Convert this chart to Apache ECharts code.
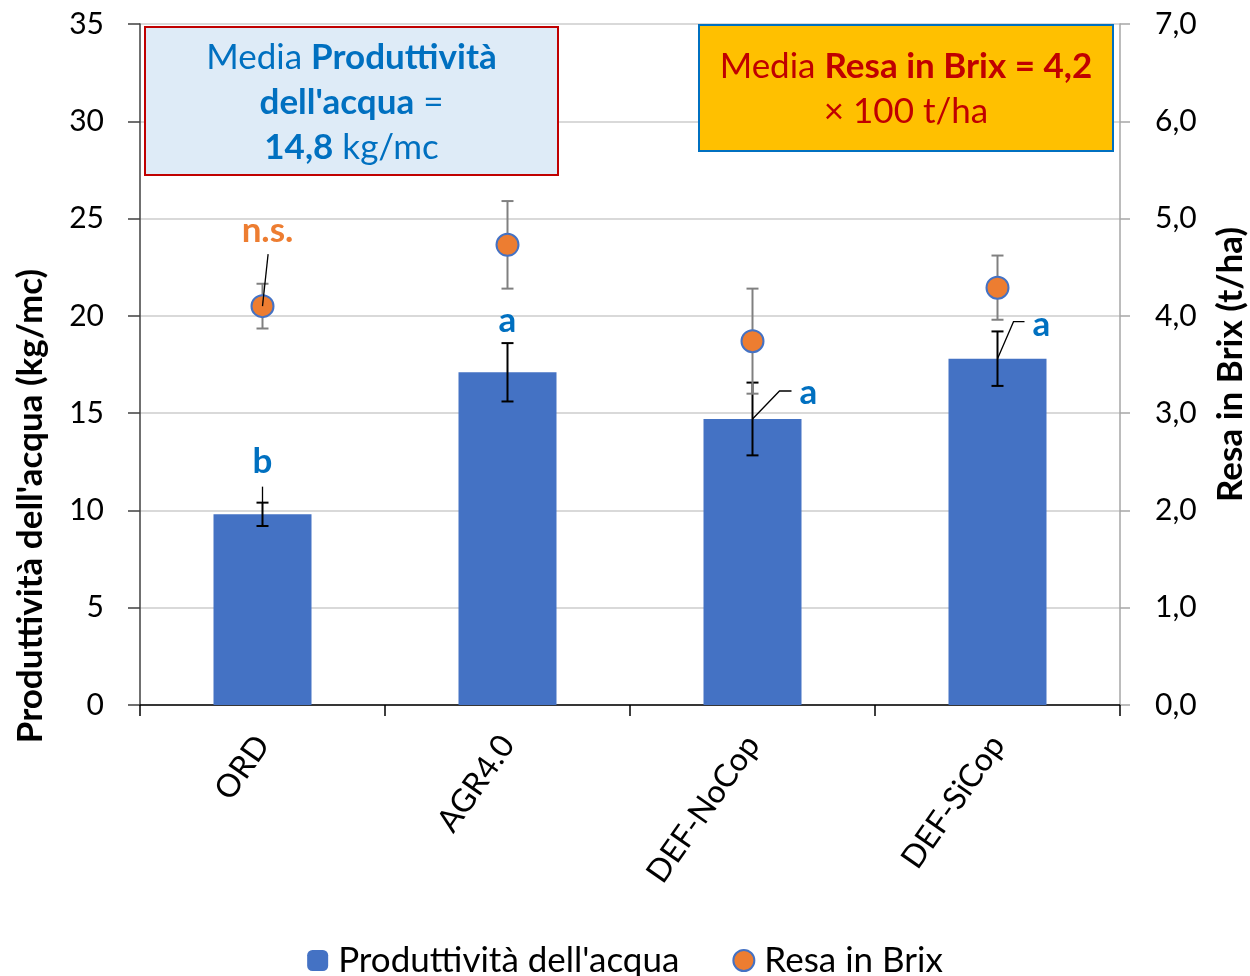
<!DOCTYPE html>
<html>
<head>
<meta charset="utf-8">
<script src="https://cdn.jsdelivr.net/npm/echarts@6/dist/echarts.min.js"></script>
<style>
  html, body { margin: 0; padding: 0; background: #fff; }
  #chart { width: 1250px; height: 976px; }
</style>
</head>
<body>
<div id="chart"></div>
<script>
// Treatments
const categories = ['ORD', 'AGR4.0', 'DEF-NoCop', 'DEF-SiCop'];

// Water productivity (kg/mc) and its error
const waterProd = [9.8, 17.1, 14.7, 17.8];
const waterProdErr = [0.6, 1.5, 1.87, 1.4];

// Brix yield (t/ha, right axis) and its error
const brixYield = [4.1, 4.73, 3.74, 4.29];
const brixYieldErr = [0.23, 0.45, 0.54, 0.33];

// Significance letters
const waterLetters = ['b', 'a', 'a', 'a'];
const brixLetters = ['n.s.', '', '', ''];

// Axis ticks
const leftTicks = [0, 5, 10, 15, 20, 25, 30, 35];
const rightTicks = [0, 1, 2, 3, 4, 5, 6, 7];

const FONT = 'Lato';
const BLUE = '#4472C4';
const ORANGE = '#ED7D31';
const LETTER_BLUE = '#0070C0';

// Placement of significance letters relative to their mark (pixels)
// anchor: 'err' = top of error bar, 'bar' = top of bar, 'pt' = point centre
const waterLetterLayout = [
  { anchor: 'err', text: [0, -41], line: [[0, -16], [0, 0]] },
  { anchor: 'err', text: [0, -22], line: null },
  { anchor: 'bar', text: [56, -26], line: [[0, 0], [27, -28], [39, -28]] },
  { anchor: 'bar', text: [44, -34], line: [[0, 0], [16, -37], [27, -37]] }
];
const brixLetterLayout = [
  { anchor: 'pt', text: [5, -75], line: [[5.6, -52], [0, 0]] },
  null, null, null
];

function errorBars(color) {
  return function (params, api) {
    const i = api.value(0), v = api.value(1), e = api.value(2);
    const top = api.coord([i, v + e]);
    const bot = api.coord([i, v - e]);
    const hw = 6;
    const st = { stroke: color, lineWidth: 2 };
    return {
      type: 'group',
      children: [
        { type: 'line', shape: { x1: top[0], y1: top[1], x2: bot[0], y2: bot[1] }, style: st },
        { type: 'line', shape: { x1: top[0] - hw, y1: top[1], x2: top[0] + hw, y2: top[1] }, style: st },
        { type: 'line', shape: { x1: bot[0] - hw, y1: bot[1], x2: bot[0] + hw, y2: bot[1] }, style: st }
      ]
    };
  };
}

function letterRenderer(values, errs, letters, layouts, color) {
  return function (params, api) {
    const i = params.dataIndex;
    const lay = layouts[i];
    if (!lay || !letters[i]) return null;
    const v = values[i], e = errs[i];
    let base;
    if (lay.anchor === 'err') base = api.coord([i, v + e]);
    else base = api.coord([i, v]);
    const children = [];
    if (lay.line) {
      children.push({
        type: 'polyline',
        shape: { points: lay.line.map(p => [base[0] + p[0], base[1] + p[1]]) },
        style: { stroke: '#000', lineWidth: 1.3, fill: null }
      });
    }
    children.push({
      type: 'text',
      x: base[0] + lay.text[0],
      y: base[1] + lay.text[1],
      style: {
        text: letters[i],
        fill: color,
        font: 'bold 35px ' + FONT,
        align: 'center',
        verticalAlign: 'middle'
      }
    });
    return { type: 'group', children: children };
  };
}

const chart = echarts.init(document.getElementById('chart'), null, { renderer: 'canvas' });

const commaFmt = v => v.toFixed(1).replace('.', ',');

chart.setOption({
  backgroundColor: '#fff',
  animation: false,
  textStyle: { fontFamily: FONT },
  grid: {
    left: 140, right: 130, top: 24, bottom: 271,
    containLabel: false,
    outerBoundsMode: 'none'
  },
  legend: {
    data: ["Produttività dell'acqua", 'Resa in Brix'],
    top: 938,
    left: 'center',
    itemWidth: 21,
    itemHeight: 21,
    itemGap: 53,
    textStyle: { fontFamily: FONT, fontSize: 35, color: '#000', padding: [0, 0, 0, 5] }
  },
  xAxis: {
    type: 'category',
    data: categories,
    boundaryGap: true,
    axisLine: { show: true, lineStyle: { color: '#000', width: 1.5 } },
    axisTick: { show: true, length: 11, lineStyle: { color: '#000', width: 1.5 } },
    axisLabel: {
      rotate: 55,
      margin: 34,
      fontSize: 32,
      fontFamily: FONT,
      color: '#000',
      interval: 0,
      padding: [0, 0, 12, 0]
    },
    splitLine: { show: false }
  },
  yAxis: [
    {
      type: 'value',
      min: leftTicks[0],
      max: leftTicks[leftTicks.length - 1],
      interval: leftTicks[1] - leftTicks[0],
      name: "Produttività dell'acqua (kg/mc)",
      nameLocation: 'middle',
      nameRotate: 90,
      nameGap: 92,
      nameTextStyle: {
        fontFamily: FONT, fontSize: 35, fontWeight: 'bold', color: '#000',
        padding: [0, 283, 0, 0]
      },
      axisLine: { show: true, lineStyle: { color: '#404040', width: 1.5 } },
      axisTick: { show: true, length: 12, lineStyle: { color: '#404040', width: 1.5 } },
      axisLabel: { margin: 36, fontSize: 30, fontFamily: FONT, color: '#000' },
      splitLine: { show: true, lineStyle: { color: '#D9D9D9', width: 2 } }
    },
    {
      type: 'value',
      position: 'right',
      min: rightTicks[0],
      max: rightTicks[rightTicks.length - 1],
      interval: rightTicks[1] - rightTicks[0],
      name: 'Resa in Brix (t/ha)',
      nameLocation: 'middle',
      nameRotate: 90,
      nameGap: 93,
      nameTextStyle: { fontFamily: FONT, fontSize: 35, fontWeight: 'bold', color: '#000' },
      axisLine: { show: true, lineStyle: { color: '#A6A6A6', width: 1.5 } },
      axisTick: { show: true, length: 10, lineStyle: { color: '#A6A6A6', width: 1.5 } },
      axisLabel: { margin: 35, fontSize: 30, fontFamily: FONT, color: '#000', formatter: commaFmt },
      splitLine: { show: false }
    }
  ],
  series: [
    {
      name: "Produttività dell'acqua",
      type: 'bar',
      yAxisIndex: 0,
      data: waterProd,
      barWidth: '40%',
      itemStyle: { color: BLUE },
      z: 2
    },
    {
      name: 'water-err',
      type: 'custom',
      yAxisIndex: 0,
      renderItem: errorBars('#000'),
      encode: { x: 0, y: 1 },
      data: categories.map((c, i) => [i, waterProd[i], waterProdErr[i]]),
      z: 3,
      silent: true
    },
    {
      name: 'brix-err',
      type: 'custom',
      yAxisIndex: 1,
      renderItem: errorBars('#808080'),
      encode: { x: 0, y: 1 },
      data: categories.map((c, i) => [i, brixYield[i], brixYieldErr[i]]),
      z: 4,
      silent: true
    },
    {
      name: 'Resa in Brix',
      type: 'scatter',
      yAxisIndex: 1,
      data: brixYield,
      symbol: 'circle',
      symbolSize: 22,
      itemStyle: { color: ORANGE, borderColor: BLUE, borderWidth: 2, opacity: 1 },
      z: 5
    },
    {
      name: 'water-letters',
      type: 'custom',
      yAxisIndex: 0,
      renderItem: letterRenderer(waterProd, waterProdErr, waterLetters, waterLetterLayout, LETTER_BLUE),
      encode: { x: 0, y: 1 },
      data: categories.map((c, i) => [i, waterProd[i]]),
      z: 6,
      silent: true
    },
    {
      name: 'brix-letters',
      type: 'custom',
      yAxisIndex: 1,
      renderItem: letterRenderer(brixYield, brixYieldErr, brixLetters, brixLetterLayout, ORANGE),
      encode: { x: 0, y: 1 },
      data: categories.map((c, i) => [i, brixYield[i]]),
      z: 6,
      silent: true
    }
  ],
  graphic: [
    {
      type: 'rect',
      shape: { x: 145, y: 27, width: 413, height: 148 },
      style: { fill: '#DEEBF7', stroke: '#C00000', lineWidth: 2 },
      z: 10
    },
    {
      type: 'text',
      x: 351.5,
      y: 103,
      z: 11,
      style: {
        text: "Media {b|Produttività}\n{b|dell'acqua} =\n{b|14,8} kg/mc",
        font: '35px ' + FONT,
        fill: LETTER_BLUE,
        align: 'center',
        verticalAlign: 'middle',
        lineHeight: 45,
        rich: {
          b: { fontWeight: 'bold', fontSize: 35, fontFamily: FONT, fill: LETTER_BLUE, lineHeight: 45 }
        }
      }
    },
    {
      type: 'rect',
      shape: { x: 699, y: 25, width: 414, height: 126 },
      style: { fill: '#FFC000', stroke: '#0070C0', lineWidth: 2 },
      z: 10
    },
    {
      type: 'text',
      x: 906,
      y: 89.5,
      z: 11,
      style: {
        text: 'Media {b|Resa in Brix = 4,2}\n× 100 t/ha',
        font: '35px ' + FONT,
        fill: '#C00000',
        align: 'center',
        verticalAlign: 'middle',
        lineHeight: 45,
        rich: {
          b: { fontWeight: 'bold', fontSize: 35, fontFamily: FONT, fill: '#C00000', lineHeight: 45 }
        }
      }
    }
  ]
});
</script>
</body>
</html>
